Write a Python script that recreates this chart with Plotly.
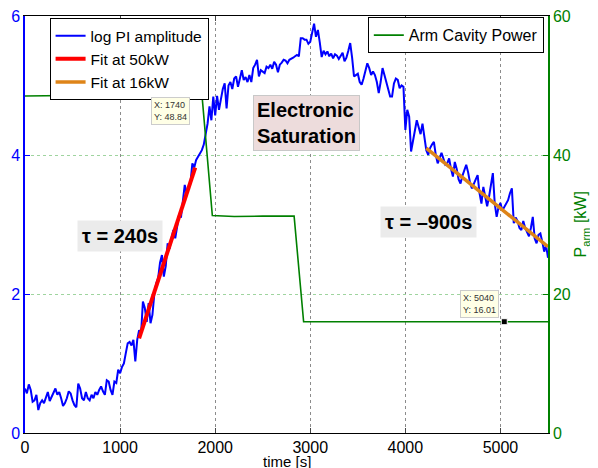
import numpy as np
import plotly.graph_objects as go

# ---- data ----
pi_time = list(range(0, 5501, 20))
pi_log_amp = [
    0.64, 0.57, 0.70, 0.62, 0.45, 0.47, 0.55, 0.33, 0.43, 0.47,
    0.43, 0.50, 0.59, 0.46, 0.52, 0.59, 0.64, 0.55, 0.59, 0.50,
    0.39, 0.43, 0.50, 0.60, 0.57, 0.47, 0.40, 0.37, 0.71, 0.64,
    0.50, 0.47, 0.59, 0.50, 0.47, 0.55, 0.50, 0.59, 0.55, 0.62,
    0.67, 0.60, 0.55, 0.76, 0.74, 0.62, 0.55, 0.74, 0.72, 0.91,
    0.86, 0.95, 1.00, 1.15, 1.29, 1.31, 1.26, 1.34, 1.03, 1.34,
    1.48, 1.42, 1.89, 1.80, 1.60, 1.87, 1.58, 1.70, 2.00, 2.15,
    2.23, 2.45, 2.56, 2.25, 2.40, 2.73, 2.65, 2.80, 2.92, 2.80,
    3.00, 3.14, 3.10, 3.30, 3.57, 3.45, 3.52, 3.60, 3.88, 3.82,
    3.93, 3.98, 4.02, 4.07, 4.15, 4.29, 4.45, 4.70, 4.50, 4.84,
    4.57, 4.85, 4.65, 4.80, 4.95, 5.03, 4.67, 5.00, 5.05, 4.95,
    5.10, 5.13, 4.98, 5.10, 5.22, 5.08, 5.12, 5.05, 5.15, 5.05,
    5.25, 5.30, 5.37, 5.13, 5.22, 5.20, 5.18, 5.27, 5.25, 5.30,
    5.24, 5.34, 5.30, 5.19, 5.30, 5.33, 5.37, 5.36, 5.32, 5.37,
    5.38, 5.40, 5.42, 5.44, 5.42, 5.68, 5.68, 5.66, 5.66, 5.60,
    5.63, 5.77, 5.89, 5.70, 5.80, 5.62, 5.41, 5.50, 5.45, 5.49,
    5.42, 5.46, 5.39, 5.45, 5.43, 5.38, 5.42, 5.47, 5.35, 5.40,
    5.50, 5.61, 5.40, 5.13, 5.15, 5.17, 5.05, 5.01, 5.10, 5.20,
    5.32, 5.25, 5.15, 5.20, 5.15, 5.05, 4.89, 5.05, 5.25, 5.15,
    5.05, 4.95, 4.84, 4.84, 5.03, 5.10, 5.08, 4.96, 5.00, 4.98,
    4.36, 4.65, 4.55, 4.05, 4.20, 4.35, 4.50, 4.40, 4.30, 4.45,
    4.22, 4.07, 4.00, 4.10, 4.15, 4.19, 4.00, 3.88, 3.95, 4.03,
    3.95, 3.86, 3.88, 3.95, 3.80, 3.69, 3.90, 3.80, 3.65, 3.59,
    3.70, 3.80, 3.86, 3.75, 3.60, 3.52, 3.60, 3.65, 3.71, 3.45,
    3.30, 3.54, 3.40, 3.26, 3.40, 3.60, 3.74, 3.30, 3.11, 3.25,
    3.31, 3.20, 3.25, 3.31, 3.35, 3.45, 3.52, 3.02, 3.10, 3.05,
    2.95, 2.92, 3.05, 2.95, 2.90, 2.83, 2.95, 3.11, 2.80, 2.73,
    2.85, 2.87, 2.75, 2.61, 2.70, 2.52,
]

fit50_time = [1200, 1790]
fit50_val = [1.36, 3.82]
fit16_time = [4220, 5500]
fit16_val = [4.10, 2.68]

power_time = [0, 300, 600, 900, 1200, 1500, 1740, 1860, 1970, 2200, 2500, 2830,
              2930, 3500, 4000, 4500, 5040, 5500]
power_kw = [48.5, 48.55, 48.6, 48.62, 48.7, 48.75, 48.84, 48.8, 31.3, 31.15, 31.2, 31.2,
            16.0, 16.0, 16.05, 16.0, 16.01, 16.0]

tip_time = [1740, 5040]
tip_power = [48.84, 16.01]

x_ticks = [0, 1000, 2000, 3000, 4000, 5000]
left_ticks = [0, 2, 4, 6]
right_ticks = [0, 20, 40, 60]

FONT = "Liberation Sans, Arial, sans-serif"
BLUE = "#0000ff"
GREEN = "#008000"
RED = "#ff0000"
ORANGE = "#de8418"

fig = go.Figure()
fig.add_trace(go.Scatter(x=pi_time, y=pi_log_amp, mode="lines", name="log PI amplitude",
                         line=dict(color=BLUE, width=2), legend="legend"))
fig.add_trace(go.Scatter(x=fit50_time, y=fit50_val, mode="lines", name="Fit at 50kW",
                         line=dict(color=RED, width=4), legend="legend"))
fig.add_trace(go.Scatter(x=fit16_time, y=fit16_val, mode="lines", name="Fit at 16kW",
                         line=dict(color=ORANGE, width=3.5), legend="legend"))
fig.add_trace(go.Scatter(x=power_time, y=power_kw, mode="lines", name="Arm Cavity Power",
                         line=dict(color=GREEN, width=1.6), yaxis="y2", legend="legend2"))
fig.add_trace(go.Scatter(x=tip_time, y=tip_power, mode="markers", showlegend=False,
                         marker=dict(symbol="square", size=6, color="black",
                                     line=dict(color="white", width=1)), yaxis="y2"))

fig.update_layout(
    width=598, height=468,
    margin=dict(l=17, r=58, t=8, b=43, autoexpand=False),
    paper_bgcolor="white", plot_bgcolor="white",
    font=dict(family=FONT, size=16, color="black"),
    xaxis=dict(range=[0, 5500], tickvals=x_ticks, ticks="inside", ticklen=5,
               showline=True, linecolor="black", linewidth=1, mirror="ticks",
               showgrid=True, gridcolor="#8c8c8c", griddash="dot", gridwidth=1,
               zeroline=False, tickfont=dict(size=16, color="black"), automargin=False,
               ticklabeloverflow="allow"),
    yaxis=dict(range=[0, 6], tickvals=left_ticks, ticks="inside", ticklen=5,
               showline=True, linecolor=BLUE, linewidth=1.5, tickcolor=BLUE,
               showgrid=False, zeroline=False, tickfont=dict(size=16, color=BLUE),
               automargin=False, ticklabeloverflow="allow"),
    yaxis2=dict(range=[0, 60], tickvals=right_ticks, ticks="inside", ticklen=5,
                overlaying="y", side="right",
                showline=True, linecolor=GREEN, linewidth=1.5, tickcolor=GREEN,
                showgrid=True, gridcolor="#9fd49f", griddash="dot", gridwidth=1,
                zeroline=False, tickfont=dict(size=16, color=GREEN), automargin=False,
                ticklabeloverflow="allow"),
    legend=dict(x=0.047, y=0.995, xanchor="left", yanchor="top",
                bgcolor="white", bordercolor="black", borderwidth=1,
                font=dict(size=15.5), itemwidth=30, tracegroupgap=0),
    legend2=dict(x=0.992, y=0.997, xanchor="right", yanchor="top",
                 bgcolor="white", bordercolor="black", borderwidth=1,
                 font=dict(size=16), itemwidth=30),
    showlegend=True,
)

annos = [
    dict(text="<b>Electronic<br>Saturation</b>", x=0.539, y=0.743, xref="paper", yref="paper",
         xanchor="center", yanchor="middle",
         showarrow=False, font=dict(size=20, color="black"), bgcolor="#eddcdc",
         bordercolor="#c8c8c8", borderwidth=1, borderpad=3, align="left"),
    dict(text="<b>τ = 240s</b>", x=0.182, y=0.472, xref="paper", yref="paper",
         xanchor="center", yanchor="middle",
         showarrow=False, font=dict(size=20, color="black"), bgcolor="#ebebeb", borderpad=4),
    dict(text="<b>τ = –900s</b>", x=0.772, y=0.506, xref="paper", yref="paper",
         xanchor="center", yanchor="middle",
         showarrow=False, font=dict(size=20, color="black"), bgcolor="#ebebeb", borderpad=4),
    dict(text="time [s]", x=0.5, y=-0.069, xref="paper", yref="paper",
         xanchor="center", yanchor="middle", showarrow=False,
         font=dict(size=15, color="black")),
    dict(text="P<sub>arm</sub> [kW]", x=1.065, y=0.5, xref="paper", yref="paper",
         xanchor="center", yanchor="middle",
         textangle=-90, showarrow=False, font=dict(size=16, color=GREEN)),
    dict(text=f"X: {tip_time[0]}<br>Y: {tip_power[0]:.2f}", x=tip_time[0], y=tip_power[0],
         xref="x", yref="y2", xanchor="right", yanchor="top", yshift=-3, showarrow=False,
         font=dict(size=9, color="#333333"), bgcolor="#ffffe6", bordercolor="#cccccc",
         borderwidth=1, borderpad=2, align="left"),
    dict(text=f"X: {tip_time[1]}<br>Y: {tip_power[1]:.2f}", x=tip_time[1], y=tip_power[1],
         xref="x", yref="y2", xanchor="right", yanchor="bottom", xshift=-5, yshift=4,
         showarrow=False, font=dict(size=9, color="#333333"), bgcolor="#ffffe6",
         bordercolor="#cccccc", borderwidth=1, borderpad=2, align="left"),
]
fig.update_layout(annotations=annos)

fig.write_html("out.html")
